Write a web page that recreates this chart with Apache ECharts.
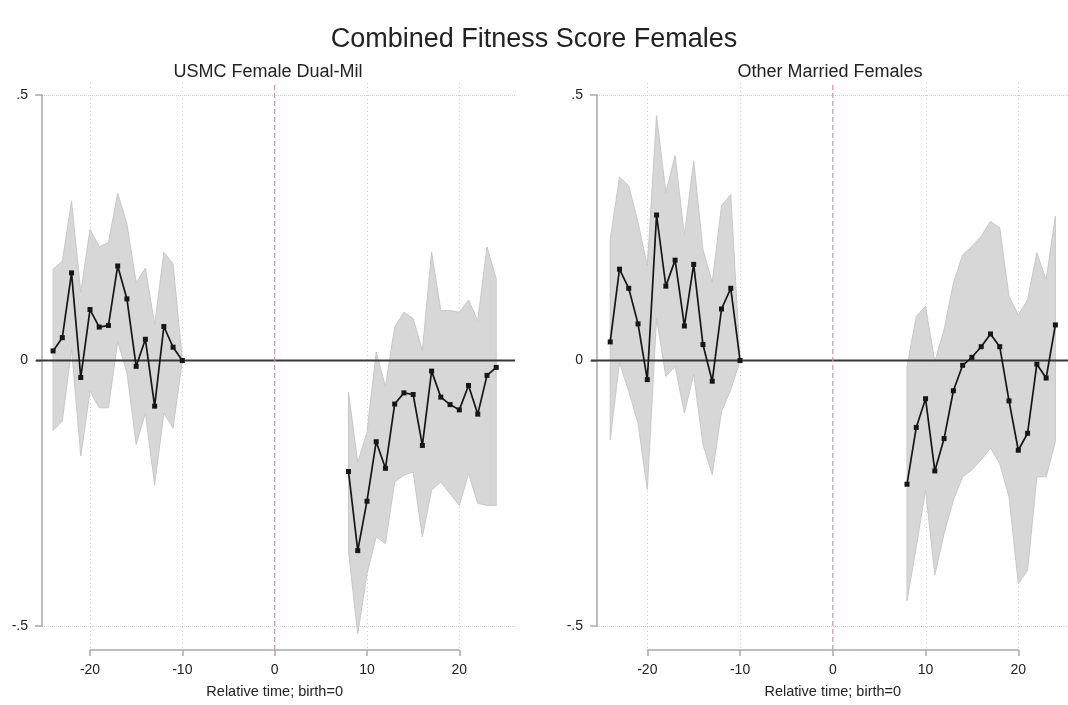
<!DOCTYPE html>
<html>
<head>
<meta charset="utf-8">
<script src="https://cdn.jsdelivr.net/npm/echarts@6/dist/echarts.min.js"></script>
<style>
  html, body { margin: 0; padding: 0; background: #ffffff; }
  #chart { width: 1068px; height: 705px; }
</style>
</head>
<body>
<div id="chart"></div>
<script>
// Event-study estimates of the combined fitness score, relative to birth (t = 0).
const chartTitle = 'Combined Fitness Score Females';
const panelTitles = ['USMC Female Dual-Mil', 'Other Married Females'];
const xAxisTitle = 'Relative time; birth=0';

const relTimePre = [-24, -23, -22, -21, -20, -19, -18, -17, -16, -15, -14, -13, -12, -11, -10];
const relTimePost = [8, 9, 10, 11, 12, 13, 14, 15, 16, 17, 18, 19, 20, 21, 22, 23, 24];

const xTicks = [-20, -10, 0, 10, 20];
const yTicks = [-0.5, 0, 0.5];
const birthTime = 0;
const referenceLevel = 0;

// USMC female dual-military members
const usmcPre   = [0.018, 0.043, 0.165, -0.032, 0.096, 0.063, 0.066, 0.178, 0.116, -0.011, 0.040, -0.086, 0.064, 0.025, 0];
const usmcPreLo = [-0.132, -0.114, 0.022, -0.180, -0.058, -0.089, -0.089, 0.036, -0.023, -0.158, -0.099, -0.234, -0.099, -0.127, 0];
const usmcPreHi = [0.172, 0.187, 0.300, 0.128, 0.247, 0.214, 0.222, 0.315, 0.257, 0.147, 0.174, 0.068, 0.204, 0.182, 0];

const usmcPost   = [-0.209, -0.358, -0.265, -0.153, -0.203, -0.082, -0.061, -0.064, -0.160, -0.020, -0.069, -0.083, -0.093, -0.047, -0.101, -0.028, -0.013];
const usmcPostLo = [-0.360, -0.515, -0.402, -0.332, -0.345, -0.229, -0.216, -0.210, -0.332, -0.244, -0.229, -0.251, -0.273, -0.213, -0.269, -0.273, -0.273];
const usmcPostHi = [-0.060, -0.192, -0.135, 0.016, -0.049, 0.063, 0.091, 0.079, 0.019, 0.204, 0.094, 0.094, 0.091, 0.114, 0.075, 0.214, 0.154];

// Other married females
const otherPre   = [0.035, 0.172, 0.136, 0.069, -0.036, 0.274, 0.140, 0.189, 0.065, 0.181, 0.030, -0.039, 0.097, 0.136, 0];
const otherPreLo = [-0.149, -0.004, -0.058, -0.118, -0.243, 0.080, -0.030, -0.011, -0.099, -0.026, -0.158, -0.215, -0.096, -0.055, 0];
const otherPreHi = [0.228, 0.345, 0.329, 0.260, 0.178, 0.461, 0.316, 0.386, 0.235, 0.376, 0.209, 0.147, 0.291, 0.313, 0];

const otherPost   = [-0.233, -0.126, -0.072, -0.208, -0.147, -0.057, -0.009, 0.006, 0.026, 0.050, 0.026, -0.076, -0.169, -0.137, -0.007, -0.033, 0.067];
const otherPostLo = [-0.452, -0.351, -0.244, -0.404, -0.326, -0.263, -0.219, -0.206, -0.187, -0.165, -0.194, -0.257, -0.420, -0.395, -0.219, -0.219, -0.153];
const otherPostHi = [-0.011, 0.083, 0.102, -0.002, 0.058, 0.146, 0.199, 0.215, 0.234, 0.262, 0.250, 0.121, 0.086, 0.114, 0.203, 0.152, 0.272];

// ---- layout and styling ----
const FONT = '"Liberation Sans", Arial, Helvetica, sans-serif';
const TEXT_COLOR = '#222222';
const AXIS_COLOR = '#a9a9a9';
const GRID_COLOR = '#d0d0d0';
const BAND_FILL = '#d7d7d7';
const BAND_EDGE = '#c8c8c8';
const LINE_COLOR = '#161616';
const ZERO_COLOR = '#383838';
const BIRTH_COLOR = '#dc8c9c';

const Y_TOP_PX = 95;      // y = .5
const Y_BOTTOM_PX = 626;  // y = -.5
const GRID_TOP_PX = 83;
const X_AXIS_PX = 650;
const RULE_SPAN = [0, 1]; // hidden vertical scale of the tick grid

const panels = [
  { title: panelTitles[0], titleX: 268, plotLeft: 42, plotRight: 515, tickLeft: 90, tickRight: 459.3,
    pre: [usmcPre, usmcPreLo, usmcPreHi], post: [usmcPost, usmcPostLo, usmcPostHi] },
  { title: panelTitles[1], titleX: 830, plotLeft: 597, plotRight: 1068, tickLeft: 647.3, tickRight: 1018.3,
    pre: [otherPre, otherPreLo, otherPreHi], post: [otherPost, otherPostLo, otherPostHi] }
];

function fmtY(v) {
  if (v === 0) return '0';
  return (v < 0 ? '-' : '') + String(Math.abs(v)).replace(/^0/, '');
}

const pairs = (xs, ys) => xs.map((x, i) => [x, ys[i]]);

// Confidence band drawn as one polygon: upper bound forward, lower bound back.
function bandSeries(xs, lo, hi, xi, yi) {
  const rows = xs.map((x, i) => [x, lo[i], hi[i]]);
  return {
    type: 'custom', xAxisIndex: xi, yAxisIndex: yi, z: 1, silent: true, clip: false,
    data: rows,
    encode: { x: 0, y: [1, 2] },
    renderItem(params, api) {
      if (params.dataIndex !== 0) return null;
      const upper = rows.map(r => api.coord([r[0], r[2]]));
      const lower = rows.map(r => api.coord([r[0], r[1]])).reverse();
      return {
        type: 'polygon',
        shape: { points: upper.concat(lower) },
        style: { fill: BAND_FILL, stroke: BAND_EDGE, lineWidth: 1 }
      };
    }
  };
}

// Vertical rule spanning the full height of its grid, at each x value given.
function verticalRules(values, xi, yi, z, style) {
  return {
    type: 'custom', xAxisIndex: xi, yAxisIndex: yi, z, silent: true, clip: false,
    data: values.map(v => [v, 0]),
    encode: { x: 0, y: 1 },
    renderItem(params, api) {
      const cs = params.coordSys;
      const x = Math.round(api.coord([api.value(0), 0])[0]) + 0.5;
      return { type: 'line', shape: { x1: x, y1: cs.y, x2: x, y2: cs.y + cs.height }, style };
    }
  };
}

// Horizontal rule spanning the full width of its grid, at each y value given.
function horizontalRules(values, xi, yi, z, style) {
  return {
    type: 'custom', xAxisIndex: xi, yAxisIndex: yi, z, silent: true, clip: false,
    data: values.map(v => [0, v]),
    encode: { x: 0, y: 1 },
    renderItem(params, api) {
      const cs = params.coordSys;
      const y = api.coord([0, api.value(1)])[1];
      return { type: 'line', shape: { x1: cs.x - 6, y1: y, x2: cs.x + cs.width, y2: y }, style };
    }
  };
}

const grids = [], xAxes = [], yAxes = [], series = [], graphics = [];

graphics.push({
  type: 'text', x: 534, y: 40, silent: true,
  style: { text: chartTitle, fill: TEXT_COLOR, fontSize: 27, fontFamily: FONT,
           textAlign: 'center', align: 'center', textVerticalAlign: 'middle', verticalAlign: 'middle' }
});

panels.forEach((p) => {
  const tickMin = xTicks[0], tickMax = xTicks[xTicks.length - 1];
  const pxPerUnit = (p.tickRight - p.tickLeft) / (tickMax - tickMin);
  const dataMin = tickMin - (p.tickLeft - p.plotLeft) / pxPerUnit;
  const dataMax = tickMax + (p.plotRight - p.tickRight) / pxPerUnit;

  const gData = grids.length;
  grids.push({ left: p.plotLeft, top: Y_TOP_PX, width: p.plotRight - p.plotLeft, height: Y_BOTTOM_PX - Y_TOP_PX });
  const gAxis = grids.length;
  grids.push({ left: p.tickLeft, top: GRID_TOP_PX, width: p.tickRight - p.tickLeft, height: X_AXIS_PX - GRID_TOP_PX });

  // data grid: hidden x scale, visible y axis
  xAxes.push({ gridIndex: gData, type: 'value', min: dataMin, max: dataMax, show: false });
  yAxes.push({
    gridIndex: gData, type: 'value', min: yTicks[0], max: yTicks[yTicks.length - 1], interval: yTicks[1] - yTicks[0],
    axisLine: { show: true, onZero: false, lineStyle: { color: AXIS_COLOR, width: 1.5 } },
    axisTick: { show: true, length: 7, lineStyle: { color: AXIS_COLOR, width: 1.5 } },
    axisLabel: { formatter: fmtY, fontSize: 14, fontFamily: FONT, color: TEXT_COLOR, margin: 14 },
    splitLine: { show: true, lineStyle: { color: GRID_COLOR, type: 'dotted', width: 1 } }
  });

  // tick grid: x axis from -20 to 20
  xAxes.push({
    gridIndex: gAxis, type: 'value', min: tickMin, max: tickMax, interval: xTicks[1] - xTicks[0],
    axisLine: { show: true, onZero: false, lineStyle: { color: AXIS_COLOR, width: 1.5 } },
    axisTick: { show: true, length: 6, lineStyle: { color: AXIS_COLOR, width: 1.5 } },
    axisLabel: { fontSize: 14, fontFamily: FONT, color: TEXT_COLOR, margin: 13 },
    splitLine: { show: false },
    name: xAxisTitle, nameLocation: 'middle', nameGap: 34,
    nameTextStyle: { fontSize: 14.5, fontFamily: FONT, color: TEXT_COLOR }
  });
  yAxes.push({ gridIndex: gAxis, type: 'value', min: RULE_SPAN[0], max: RULE_SPAN[1], show: false });

  const xi = xAxes.length - 2, yi = yAxes.length - 2;

  // vertical dotted grid lines at the labelled ticks, beneath everything
  series.push(verticalRules(xTicks.filter(t => t !== birthTime), xi + 1, yi + 1, 0,
    { stroke: GRID_COLOR, lineWidth: 1, lineDash: [1, 3] }));

  series.push(bandSeries(relTimePre, p.pre[1], p.pre[2], xi, yi));
  series.push(bandSeries(relTimePost, p.post[1], p.post[2], xi, yi));

  // reference line at zero
  series.push(horizontalRules([referenceLevel], xi, yi, 2, { stroke: ZERO_COLOR, lineWidth: 2 }));

  // birth marker: dashed line across the full height of the tick grid
  series.push({
    type: 'line', xAxisIndex: xi + 1, yAxisIndex: yi + 1, z: 2, silent: true,
    data: RULE_SPAN.map(v => [birthTime, v]),
    symbol: 'none', color: BIRTH_COLOR,
    itemStyle: { color: BIRTH_COLOR },
    lineStyle: { color: BIRTH_COLOR, width: 1.2, type: [5, 3] }
  });

  [[relTimePre, p.pre[0]], [relTimePost, p.post[0]]].forEach(([xs, est]) => {
    series.push({
      type: 'line', xAxisIndex: xi, yAxisIndex: yi, data: pairs(xs, est), z: 3, clip: false,
      symbol: 'rect', symbolSize: 5, showAllSymbol: true,
      itemStyle: { color: LINE_COLOR },
      lineStyle: { color: LINE_COLOR, width: 1.7 }
    });
  });

  graphics.push({
    type: 'text', x: p.titleX, y: 72, silent: true,
    style: { text: p.title, fill: TEXT_COLOR, fontSize: 18, fontFamily: FONT,
             textAlign: 'center', align: 'center', textVerticalAlign: 'middle', verticalAlign: 'middle' }
  });
});

const chart = echarts.init(document.getElementById('chart'), null, { renderer: 'canvas' });
chart.setOption({
  backgroundColor: '#ffffff',
  animation: false,
  textStyle: { fontFamily: FONT },
  grid: grids,
  xAxis: xAxes,
  yAxis: yAxes,
  series,
  graphic: graphics
});
</script>
</body>
</html>
